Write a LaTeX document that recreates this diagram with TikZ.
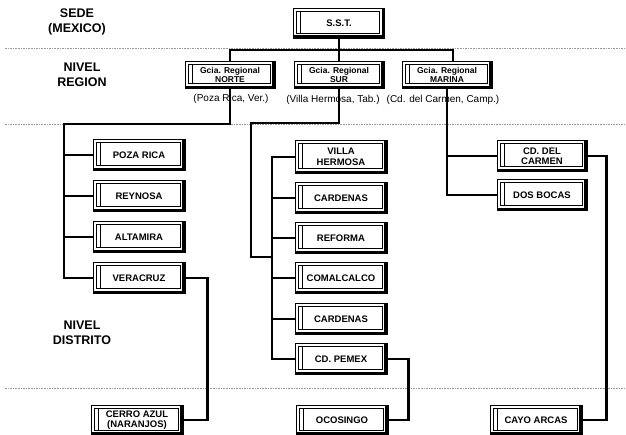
\documentclass[tikz,border=0pt]{standalone}
\usepackage{fontspec}
\setmainfont{Liberation Sans}
\begin{document}
\begin{tikzpicture}[x=1pt,y=-1pt,
  unitbox/.style={draw, line width=0.7pt, minimum width=92pt, minimum height=31pt,
    inner sep=0.5pt, align=center, font=\bfseries\fontsize{9.5}{10.5}\selectfont,
    path picture={
      \draw[line width=0.5pt]
        ([xshift=3pt,yshift=-3pt]path picture bounding box.north west) rectangle
        ([xshift=-5pt,yshift=5pt]path picture bounding box.south east);
      \draw[line width=0.5pt]
        ([xshift=7pt,yshift=-3pt]path picture bounding box.north west) --
        ([xshift=7pt,yshift=5pt]path picture bounding box.south west);
      \fill ([xshift=-2.8pt]path picture bounding box.north east) rectangle
        (path picture bounding box.south east);
      \fill (path picture bounding box.south west) rectangle
        ([yshift=2.8pt]path picture bounding box.south east);
    }},
  regbox/.style={unitbox, minimum width=90pt, minimum height=27pt,
    font=\bfseries\fontsize{8.5}{9}\selectfont},
  link/.style={line width=2.8pt, line join=miter},
  levellabel/.style={font=\bfseries\fontsize{12.5}{15}\selectfont, align=center},
  place/.style={font=\fontsize{10}{12}\selectfont, inner sep=0pt},
  sep/.style={gray!80, line width=0.5pt, dash pattern=on 1.6pt off 1pt}]

\useasboundingbox (0,0) rectangle (626,435);

% level separators
\draw[sep] (5,48) -- (626,48);
\draw[sep] (5,124) -- (626,124);
\draw[sep] (5,388) -- (626,388);

% level titles
\node[levellabel] (lsede) at (77,22) {SEDE\\(MEXICO)};
\node[levellabel] (lregion) at (82,75) {NIVEL\\REGION};
\node[levellabel] (ldistrito) at (82,333) {NIVEL\\DISTRITO};

% seat of each regional office
\node[place] (pnorte) at (231,99) {(Poza Rica, Ver.)};
\node[place] (psur) at (333,100) {(Villa Hermosa, Tab.)};
\node[place] (pmarina) at (443,100) {(Cd. del Carmen, Camp.)};

% headquarters and regions
\node[unitbox, minimum width=91pt, minimum height=30pt] (sst) at (339,23) {S.S.T.};
\node[regbox] (norte) at (230,75) {Gcia. Regional\\NORTE};
\node[regbox] (sur) at (339,75) {Gcia. Regional\\SUR};
\node[regbox] (marina) at (447,75) {Gcia. Regional\\MARINA};

% districts, region NORTE
\node[unitbox] (poza) at (139,155) {POZA RICA};
\node[unitbox] (reynosa) at (139,196) {REYNOSA};
\node[unitbox] (altamira) at (139,237) {ALTAMIRA};
\node[unitbox] (veracruz) at (139,278) {VERACRUZ};
\node[unitbox, minimum height=30pt] (cerro) at (137,420) {CERRO AZUL\\(NARANJOS)};

% districts, region SUR
\node[unitbox, minimum height=33pt] (villa) at (341,157) {VILLA\\HERMOSA};
\node[unitbox] (cardenasA) at (341,198) {CARDENAS};
\node[unitbox] (reforma) at (341,238) {REFORMA};
\node[unitbox] (comalcalco) at (341,278) {COMALCALCO};
\node[unitbox] (cardenasB) at (341,319) {CARDENAS};
\node[unitbox] (pemex) at (341,359) {CD. PEMEX};
\node[unitbox, minimum height=30pt] (ocosingo) at (342,420) {OCOSINGO};

% districts, region MARINA
\node[unitbox, minimum width=90pt] (carmen) at (542,156) {CD. DEL\\CARMEN};
\node[unitbox, minimum width=90pt] (dosbocas) at (542,195) {DOS BOCAS};
\node[unitbox, minimum width=92pt, minimum height=30pt] (cayo) at (536,420) {CAYO ARCAS};

% headquarters to regions
\coordinate (busR) at (453,50);
\draw[link] (sst) -- (sur);
\draw[link] (norte.north) |- (busR) -- (busR |- marina.north);

% NORTE to its districts
\coordinate (nbend) at (64,124);
\draw[link] (norte.south) |- (nbend) |- (veracruz.west);
\draw[link] (nbend |- poza.west) -- (poza.west);
\draw[link] (nbend |- reynosa.west) -- (reynosa.west);
\draw[link] (nbend |- altamira.west) -- (altamira.west);
\draw[link] (veracruz.east) -- ++(22,0) |- (cerro.east);

% SUR to its districts
\coordinate (sbend) at (251,123);
\coordinate (sjog) at (251,257);
\coordinate (sspine) at (272,257);
\draw[link] (sur.south) |- (sbend) -- (sjog) -- (sspine);
\draw[link] (villa.west) -| (sspine) |- (pemex.west);
\draw[link] (sspine |- cardenasA.west) -- (cardenasA.west);
\draw[link] (sspine |- reforma.west) -- (reforma.west);
\draw[link] (sspine |- comalcalco.west) -- (comalcalco.west);
\draw[link] (sspine |- cardenasB.west) -- (cardenasB.west);
\draw[link] (pemex.east) -- ++(21,0) |- (ocosingo.east);

% MARINA to its districts
\draw[link] (marina.south) |- (dosbocas.west);
\draw[link] (marina.south |- carmen.west) -- (carmen.west);
\draw[link] (carmen.east) -- ++(19,0) |- (cayo.east);

\end{tikzpicture}
\end{document}
